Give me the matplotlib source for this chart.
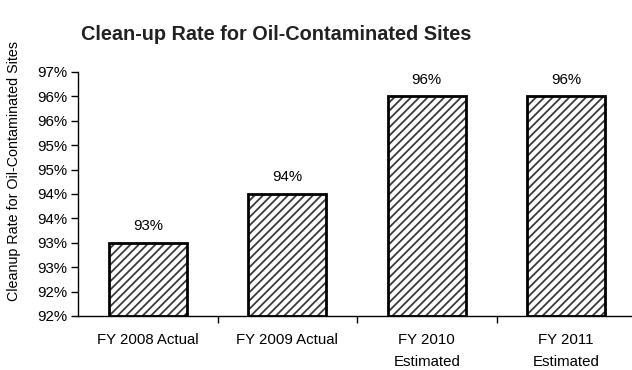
import math

import matplotlib.pyplot as plt
from matplotlib.ticker import FixedLocator, FuncFormatter

plt.rcParams['font.family'] = ['Liberation Sans', 'DejaVu Sans']
plt.rcParams['hatch.linewidth'] = 1.3

TITLE = "Clean-up Rate for Oil-Contaminated Sites"
Y_LABEL = "Cleanup Rate for Oil-Contaminated Sites"

categories = ["FY 2008 Actual", "FY 2009 Actual", "FY 2010\nEstimated", "FY 2011\nEstimated"]
rates = [93, 94, 96, 96]
y_ticks = [91.5, 92.0, 92.5, 93.0, 93.5, 94.0, 94.5, 95.0, 95.5, 96.0, 96.5]

FS = 10.8
W, H = 632, 370
fig = plt.figure(figsize=(W / 100, H / 100), dpi=100)
ax = fig.add_axes([78 / W, (H - 316) / H, 558 / W, 244 / H])

x = list(range(len(categories)))
heights = [r - y_ticks[0] for r in rates]
# gray hatch fill, then a heavy black outline on top
ax.bar(x, heights, bottom=y_ticks[0], width=0.56, color="white",
       edgecolor="#3a3a3a", linewidth=0, hatch="////")
ax.bar(x, heights, bottom=y_ticks[0], width=0.56, fill=False,
       edgecolor="black", linewidth=2.0)

for xi, r in zip(x, rates):
    ax.text(xi, r + 0.2, f"{r}%", ha="center", va="bottom", fontsize=FS)

ax.set_xlim(-0.5, len(categories) - 0.5)
ax.set_ylim(y_ticks[0], y_ticks[-1])


def pct_label(v, pos):
    # labels are rounded half-up to whole percents
    return f"{math.floor(v + 0.5 + 1e-9)}%"


ax.yaxis.set_major_locator(FixedLocator(y_ticks))
ax.yaxis.set_major_formatter(FuncFormatter(pct_label))
ax.tick_params(axis="y", direction="out", length=5, width=1, labelsize=FS, pad=3)

ax.set_xticks(x)
ax.set_xticklabels(categories, fontsize=FS, linespacing=1.8, va="top")
ax.set_xticks([i + 0.5 for i in x], minor=True)
ax.tick_params(axis="x", which="major", length=0, pad=12)
ax.tick_params(axis="x", which="minor", direction="out", length=5, width=1)

for side in ("top", "right"):
    ax.spines[side].set_visible(False)
for side in ("left", "bottom"):
    ax.spines[side].set_linewidth(1.0)

fig.text(276 / W, 1 - 35 / H, TITLE, ha="center", va="center",
         fontsize=14.3, fontweight="bold", color="#222222")
fig.text(14 / W, 1 - 171 / H, Y_LABEL, rotation=90, ha="center", va="center",
         fontsize=10.3)

fig.savefig("out.png", dpi=100)
